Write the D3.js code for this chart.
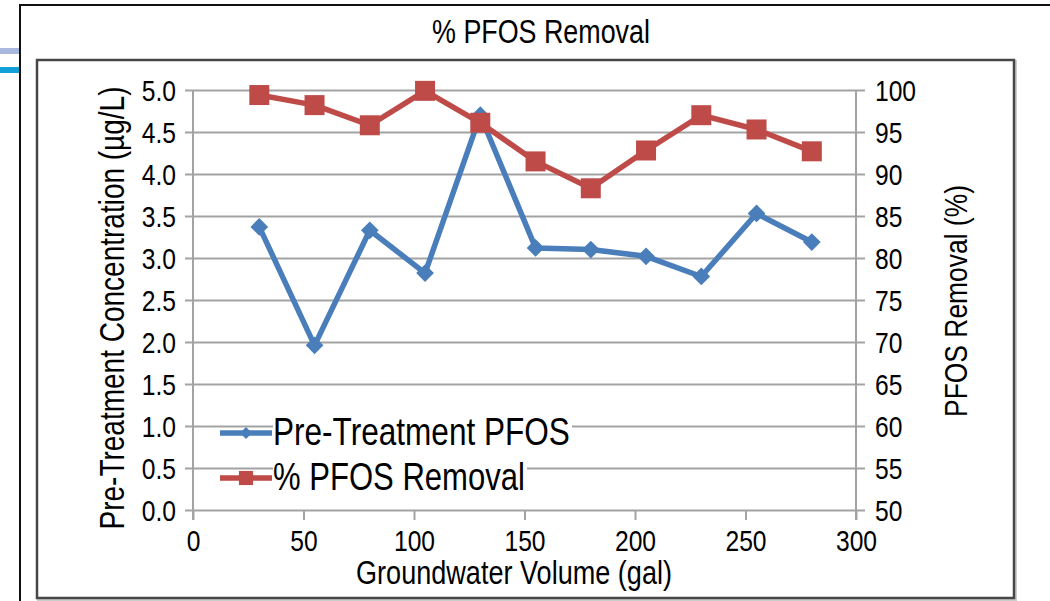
<!DOCTYPE html>
<html>
<head>
<meta charset="utf-8">
<script src="https://cdn.jsdelivr.net/npm/d3@7"></script>
<style>
  html, body { margin: 0; padding: 0; background: #fff; }
  svg { display: block; }
  text { font-family: "Liberation Sans", Arial, sans-serif; fill: #000; }
</style>
</head>
<body>
<svg id="chart" width="1050" height="601"></svg>
<script>
// ---- data ----
const volume = [30, 55, 80, 105, 130, 155, 180, 205, 230, 255, 280];
const preTreatment = [3.37, 1.96, 3.33, 2.82, 4.70, 3.12, 3.10, 3.02, 2.78, 3.53, 3.19];
const removal = [99.4, 98.2, 95.8, 99.9, 96.1, 91.5, 88.3, 92.8, 97.0, 95.3, 92.7];
const xTicks = [0, 50, 100, 150, 200, 250, 300];
const leftTicks = [0, 0.5, 1, 1.5, 2, 2.5, 3, 3.5, 4, 4.5, 5];
const rightTicks = [50, 55, 60, 65, 70, 75, 80, 85, 90, 95, 100];
const seriesNames = ["Pre-Treatment PFOS", "% PFOS Removal"];
const chartTitle = "% PFOS Removal";
const xTitle = "Groundwater Volume (gal)";
const leftTitle = "Pre-Treatment Concentration (\u00b5g/L)";
const rightTitle = "PFOS Removal (%)";

const blue = "#4a7ebb", red = "#be4b48", gridCol = "#a3a3a3";
const NARROW = 0.82;

const svg = d3.select("#chart");
svg.append("rect").attr("width", 1050).attr("height", 601).attr("fill", "#fff");

// decoration at left edge
svg.append("rect").attr("x", 0).attr("y", 48).attr("width", 20).attr("height", 6).attr("fill", "#a9b8de");
svg.append("rect").attr("x", 0).attr("y", 67).attr("width", 20).attr("height", 6).attr("fill", "#12a0d8");
// outer frame (left + top)
svg.append("path").attr("d", "M20,601V5H1050").attr("fill", "none").attr("stroke", "#111").attr("stroke-width", 2);
// inner chart box
svg.append("rect").attr("x", 38.5).attr("y", 61.5).attr("width", 977).attr("height", 538)
  .attr("fill", "none").attr("stroke", "#ccc").attr("stroke-width", 3);
svg.append("rect").attr("x", 37).attr("y", 60).attr("width", 977).attr("height", 538)
  .attr("fill", "#fff").attr("stroke", "#474747").attr("stroke-width", 2.5);

// narrow text helpers
function narrow(sel) {
  sel.each(function () {
    const w = this.getComputedTextLength();
    d3.select(this).attr("textLength", w * NARROW).attr("lengthAdjust", "spacingAndGlyphs");
  });
}
// narrow text placed by transform, sized to a target rendered width
function label(px, py, rot, anchor, txt, target) {
  const t = svg.append("text").attr("text-anchor", anchor).attr("font-size", 30).text(txt);
  const w = t.node().getComputedTextLength();
  t.attr("font-size", 30 * target / (w * NARROW));
  t.attr("transform", `translate(${px},${py}) rotate(${rot}) scale(${NARROW},1)`);
  return t;
}

// scales
const x = d3.scaleLinear().domain([0, 300]).range([193, 856]);
const yL = d3.scaleLinear().domain([0, 5]).range([510, 90]);
const yR = d3.scaleLinear().domain([50, 100]).range([510, 90]);

// gridlines
const grid = svg.append("g").attr("transform", "translate(185,0)")
  .call(d3.axisRight(yL).tickValues(leftTicks).tickSize(680).tickFormat(""));
grid.select(".domain").remove();
grid.selectAll("line").attr("stroke", gridCol).attr("stroke-width", 2);

// left axis
const axL = svg.append("g").attr("transform", "translate(193,0)")
  .call(d3.axisLeft(yL).tickValues(leftTicks).tickSize(0).tickPadding(17).tickFormat(d3.format(".1f")));
axL.select(".domain").remove();
axL.selectAll("text").attr("font-size", 30).attr("font-family", null).attr("dy", "0.36em").call(narrow);
svg.append("line").attr("x1", 193).attr("x2", 193).attr("y1", yL(5)).attr("y2", yL(0) + 10)
  .attr("stroke", gridCol).attr("stroke-width", 2);

// right axis
const axR = svg.append("g").attr("transform", "translate(856,0)")
  .call(d3.axisRight(yR).tickValues(rightTicks).tickSize(0).tickPadding(19).tickFormat(d3.format("d")));
axR.select(".domain").remove();
axR.selectAll("text").attr("font-size", 30).attr("font-family", null).attr("dy", "0.36em").call(narrow);
svg.append("line").attr("x1", 856).attr("x2", 856).attr("y1", yR(100)).attr("y2", yR(50) + 10)
  .attr("stroke", gridCol).attr("stroke-width", 2);

// x axis
const axX = svg.append("g").attr("transform", "translate(0,510)")
  .call(d3.axisBottom(x).tickValues(xTicks).tickSize(10).tickPadding(10).tickFormat(d3.format("d")));
axX.select(".domain").remove();
axX.selectAll("line").attr("stroke", gridCol).attr("stroke-width", 2);
axX.selectAll("text").attr("font-size", 30).attr("font-family", null).call(narrow);

// titles
label(541, 43, 0, "middle", chartTitle, 218);
label(514, 584, 0, "middle", xTitle, 316);
label(124, 308, -90, "middle", leftTitle, 443);
label(967, 301, -90, "middle", rightTitle, 232);

// series
const pts = volume.map((v, i) => ({ v, a: preTreatment[i], b: removal[i] }));
const lineA = d3.line().x(d => x(d.v)).y(d => yL(d.a));
const lineB = d3.line().x(d => x(d.v)).y(d => yR(d.b));

svg.append("path").datum(pts).attr("d", lineA).attr("fill", "none").attr("stroke", blue)
  .attr("stroke-width", 5.5).attr("stroke-linejoin", "round");
const diamond = d3.symbol().type(d3.symbolDiamond2).size(200);
svg.append("g").selectAll("path").data(pts).join("path")
  .attr("transform", d => `translate(${x(d.v)},${yL(d.a)})`).attr("d", diamond).attr("fill", blue);

svg.append("path").datum(pts).attr("d", lineB).attr("fill", "none").attr("stroke", red)
  .attr("stroke-width", 5.5).attr("stroke-linejoin", "round");
const square = d3.symbol().type(d3.symbolSquare).size(400);
svg.append("g").selectAll("path").data(pts).join("path")
  .attr("transform", d => `translate(${x(d.v)},${yR(d.b)})`).attr("d", square).attr("fill", red);

// legend
const legend = [
  { name: seriesNames[0], color: blue, sym: d3.symbol().type(d3.symbolDiamond2).size(90), y: 433, base: 445, w: 297 },
  { name: seriesNames[1], color: red, sym: d3.symbol().type(d3.symbolSquare).size(200), y: 478, base: 490, w: 252 }
];
legend.forEach(L => {
  svg.append("rect").attr("fill", "#fff").attr("x", 273).attr("y", L.y - 20).attr("width", L.w + 2).attr("height", 40);
  svg.append("line").attr("x1", 220).attr("x2", 272).attr("y1", L.y).attr("y2", L.y)
    .attr("stroke", L.color).attr("stroke-width", 5.5);
  svg.append("path").attr("transform", `translate(246,${L.y})`).attr("d", L.sym).attr("fill", L.color);
  label(273, L.base, 0, "start", L.name, L.w);
});
</script>
</body>
</html>
